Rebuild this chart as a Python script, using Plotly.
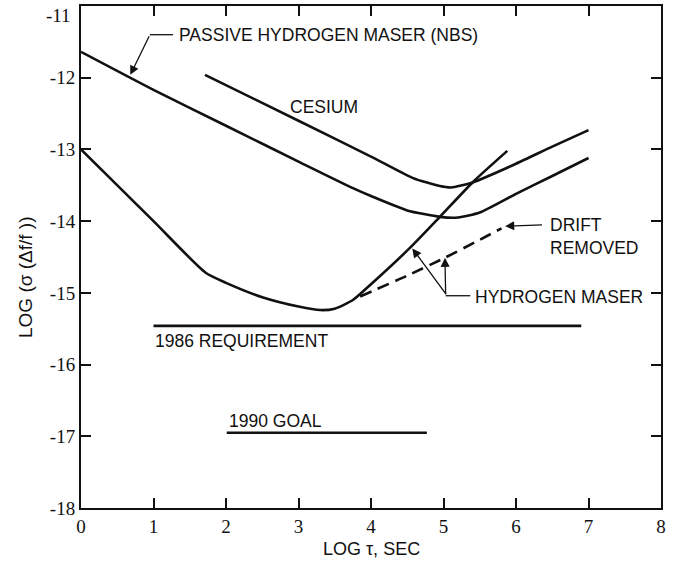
import plotly.graph_objects as go

# ---- data ----
passive_x = [0, 1, 2, 3, 3.75, 4, 4.5, 4.95, 5.2, 5.5, 6, 6.5, 7]
passive_y = [-11.64, -12.17, -12.67, -13.17, -13.54, -13.65, -13.85, -13.94, -13.95, -13.88, -13.62, -13.37, -13.12]

cesium_x = [1.71, 3, 4, 4.58, 4.95, 5.1, 5.4, 6, 6.5, 7]
cesium_y = [-11.96, -12.6, -13.1, -13.40, -13.51, -13.53, -13.46, -13.2, -12.96, -12.73]

hmaser_x = [0, 1, 1.72, 2, 2.5, 3, 3.3, 3.5, 3.75, 4, 4.54, 4.95, 5.41, 5.88]
hmaser_y = [-13.0, -14.0, -14.72, -14.86, -15.06, -15.19, -15.24, -15.22, -15.1, -14.88, -14.37, -13.94, -13.45, -13.02]

drift_x = [3.85, 4.5, 5.02, 5.5, 5.8]
drift_y = [-15.05, -14.76, -14.51, -14.26, -14.1]

req1986_x = [1.0, 6.9]
req1986_y = [-15.46, -15.46]

goal1990_x = [2.01, 4.77]
goal1990_y = [-16.95, -16.95]

x_ticks = [0, 1, 2, 3, 4, 5, 6, 7, 8]
y_ticks = [-11, -12, -13, -14, -15, -16, -17, -18]

LBL = "Liberation Sans"
NUM = "Liberation Serif"
INK = "#111111"

# plot-area pixel geometry (used only to place the axis titles)
L, R, T, B = 81, 661, 6, 508

fig = go.Figure()
curve = dict(color=INK, width=2.6)
fig.add_trace(go.Scatter(x=passive_x, y=passive_y, mode="lines", line=dict(shape="spline", smoothing=0.6, **curve)))
fig.add_trace(go.Scatter(x=cesium_x, y=cesium_y, mode="lines", line=dict(shape="spline", smoothing=0.6, **curve)))
fig.add_trace(go.Scatter(x=hmaser_x, y=hmaser_y, mode="lines", line=dict(shape="spline", smoothing=0.6, **curve)))
fig.add_trace(go.Scatter(x=drift_x, y=drift_y, mode="lines",
                         line=dict(color=INK, width=2.6, dash="12px,7px", shape="spline", smoothing=0.6)))
fig.add_trace(go.Scatter(x=req1986_x, y=req1986_y, mode="lines", line=curve))
fig.add_trace(go.Scatter(x=goal1990_x, y=goal1990_y, mode="lines", line=curve))

lead = dict(color=INK, width=1.3)
fig.add_shape(type="line", x0=0.95, y0=-11.40, x1=1.27, y1=-11.40, line=lead)
fig.add_shape(type="line", x0=5.03, y0=-15.04, x1=5.37, y1=-15.04, line=lead)

def arrow(tip_x, tip_y, tail_x, tail_y):
    fig.add_annotation(x=tip_x, y=tip_y, ax=tail_x, ay=tail_y, xref="x", yref="y",
                       axref="x", ayref="y", text="", showarrow=True,
                       arrowhead=2, arrowsize=1.4, arrowwidth=1.3, arrowcolor=INK)

arrow(0.68, -11.96, 0.95, -11.40)
arrow(5.85, -14.07, 6.38, -14.05)
arrow(5.02, -14.51, 5.03, -15.04)
arrow(4.57, -14.38, 5.05, -15.04)

def label(text, x, y, size=17.5, anchor="left"):
    fig.add_annotation(x=x, y=y, xref="x", yref="y", text=text, showarrow=False,
                       xanchor=anchor, yanchor="middle", font=dict(family=LBL, size=size, color=INK))

label("PASSIVE HYDROGEN MASER (NBS)", 1.32, -11.40)
label("CESIUM", 3.35, -12.41, anchor="center")
label("DRIFT", 6.44, -14.05)
label("REMOVED", 6.44, -14.37)
label("HYDROGEN MASER", 5.41, -15.06)
label("1986 REQUIREMENT", 0.99, -15.67)
label("1990 GOAL", 2.01, -16.79)

# axis titles
fig.add_annotation(xref="paper", yref="paper", x=(25 - L) / (R - L), y=(B - 277) / (B - T),
                   xanchor="center", yanchor="middle", text="LOG (σ (Δf/f ))", showarrow=False,
                   textangle=-90, font=dict(family=LBL, size=19, color=INK))
fig.add_annotation(xref="paper", yref="paper", x=(372 - L) / (R - L), y=(B - 549) / (B - T),
                   xanchor="center", yanchor="middle", text="LOG τ, SEC",
                   showarrow=False, font=dict(family=LBL, size=18, color=INK))

# top tick label: the reference prints it just below the frame top, so place it as text
y_ticktext = [str(v) for v in y_ticks]
y_ticktext[0] = ""
fig.add_annotation(xref="paper", yref="paper", x=(73 - L) / (R - L), y=(B - 16) / (B - T),
                   xanchor="right", yanchor="middle", text=str(y_ticks[0]), showarrow=False,
                   font=dict(family=NUM, size=19, color=INK))

axis_common = dict(showline=True, linecolor=INK, linewidth=2, mirror="ticks", ticks="inside",
                   ticklen=10, tickwidth=1.5, tickcolor=INK, showgrid=False, zeroline=False,
                   ticklabeloverflow="allow", automargin=False,
                   tickfont=dict(family=NUM, size=19, color=INK))
fig.update_xaxes(range=[0, 8], tickvals=x_ticks, ticktext=[str(v) for v in x_ticks], **axis_common)
fig.update_yaxes(range=[-18, -11], tickvals=y_ticks, ticktext=y_ticktext, **axis_common)

fig.update_layout(width=675, height=561, margin=dict(l=L, r=675 - R, t=T, b=561 - B),
                  plot_bgcolor="white", paper_bgcolor="white", showlegend=False)

fig.write_html("out.html")
